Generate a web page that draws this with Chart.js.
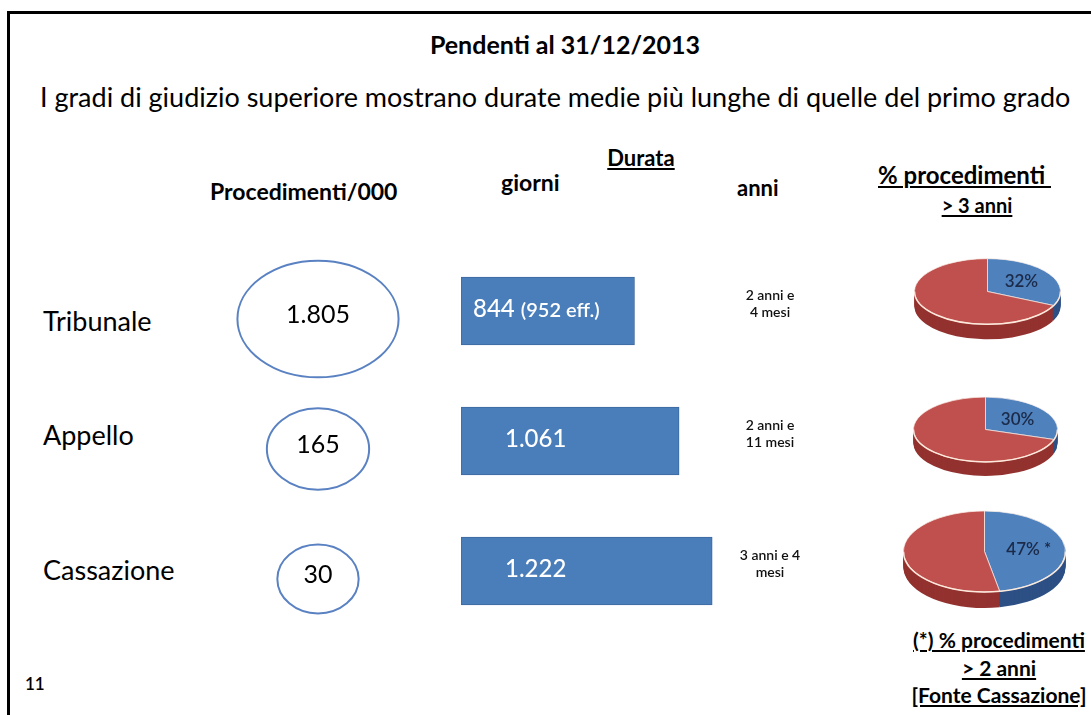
<!DOCTYPE html>
<html>
<head>
<meta charset="utf-8">
<script src="https://cdn.jsdelivr.net/npm/chart.js@4"></script>
<style>
  body { margin: 0; background: #fff; }
  #page { position: relative; width: 1091px; height: 715px; overflow: hidden; background: #fff;
          font-family: Lato, "Open Sans", sans-serif; color: #000; }
  #frame { position: absolute; left: 7px; top: 11px; width: 1100px; height: 720px;
           border-left: 3px solid #000; border-top: 3px solid #000; }
  .t { position: absolute; white-space: nowrap; line-height: 1; }
  .c { text-align: center; }
  .b { font-weight: bold; }
  .u { text-decoration: underline; text-decoration-thickness: 2px; text-underline-offset: 2px; }
  canvas { position: absolute; }
</style>
</head>
<body>
<div id="page">
  <div id="frame"></div>

  <div class="t c b" style="left:365px;width:400px;top:32px;font-size:25px;">Pendenti al 31/12/2013</div>
  <div class="t" style="left:40px;top:83px;font-size:27px;">I gradi di giudizio superiore mostrano durate medie più lunghe di quelle del primo grado</div>

  <div class="t c b u" style="left:541px;width:200px;top:147px;font-size:22px;">Durata</div>
  <div class="t b" style="left:210px;top:180px;font-size:23px;">Procedimenti/000</div>
  <div class="t b" style="left:501px;top:171px;font-size:23px;">giorni</div>
  <div class="t b" style="left:737px;top:177px;font-size:22px;">anni</div>
  <div class="t b u" style="left:878px;top:163px;font-size:24px;">% procedimenti&nbsp;</div>
  <div class="t c b u" style="left:877px;width:200px;top:195px;font-size:20px;">&gt; 3 anni</div>

  <div class="t" style="left:43px;top:307px;font-size:27px;">Tribunale</div>
  <div class="t" style="left:43px;top:421px;font-size:27px;">Appello</div>
  <div class="t" style="left:43px;top:556px;font-size:27px;">Cassazione</div>

  <div class="t" style="left:25px;top:675px;font-size:17px;font-weight:600;">11</div>
  <div class="t c b u" style="left:899px;width:200px;top:629px;font-size:21px;">(*) % procedimenti</div>
  <div class="t c b u" style="left:899px;width:200px;top:657px;font-size:21px;">&gt; 2 anni</div>
  <div class="t c b u" style="left:899px;width:200px;top:684px;font-size:21px;">[Fonte Cassazione]</div>

  <canvas id="c-proc" width="180" height="390" style="left:228px;top:254px;"></canvas>
  <canvas id="c-giorni" width="370" height="390" style="left:461px;top:246px;"></canvas>
  <canvas id="p0" width="147" height="147" style="left:914px;top:218px;"></canvas>
  <canvas id="p1" width="145" height="145" style="left:913px;top:357px;"></canvas>
  <canvas id="p2" width="163" height="163" style="left:903px;top:470px;"></canvas>
</div>

<script>
const rows = ['Tribunale', 'Appello', 'Cassazione'];
const procedimenti = [1805, 165, 30];
const procLabels = ['1.805', '165', '30'];
const durataGiorni = [844, 1061, 1222];
const giorniLabels = ['844', '1.061', '1.222'];
const giorniNote = ['(952 eff.)', '', ''];
const durataAnni = [['2 anni e', '4 mesi'], ['2 anni e', '11 mesi'], ['3 anni e 4', 'mesi']];
const pctOltre = [32, 30, 47];
const pctNote = ['', '', ' *'];

const FONT = 'Lato, "Open Sans", sans-serif';
Chart.defaults.font.family = FONT;
Chart.defaults.animation = false;
Chart.defaults.events = [];
Chart.defaults.plugins.legend.display = false;
Chart.defaults.plugins.tooltip.enabled = false;

// ellipses drawn on the bubble positions/radii
const ellipsePlugin = {
  id: 'ellipses',
  afterDatasetsDraw(chart) {
    const { ctx } = chart;
    chart.getDatasetMeta(0).data.forEach((el, i) => {
      const rx = el.options.radius;
      const ry = rx * 0.6 + 10;
      ctx.save();
      ctx.beginPath();
      ctx.ellipse(el.x, el.y, rx, ry, 0, 0, Math.PI * 2);
      ctx.strokeStyle = '#5a82c2';
      ctx.lineWidth = 2;
      ctx.stroke();
      ctx.fillStyle = '#000';
      ctx.font = `25px ${FONT}`;
      ctx.textAlign = 'center';
      ctx.textBaseline = 'middle';
      ctx.fillText(procLabels[i], el.x, el.y - 4);
      ctx.restore();
    });
  }
};

new Chart(document.getElementById('c-proc'), {
  type: 'bubble',
  data: {
    datasets: [{
      data: procedimenti.map((v, i) => ({ x: 0, y: rows[i], r: 27 + 4.4 * Math.cbrt(v) })),
      backgroundColor: 'transparent',
      borderColor: 'transparent'
    }]
  },
  options: {
    responsive: false,
    layout: { autoPadding: false },
    scales: {
      x: { display: false, min: -1, max: 1 },
      y: { type: 'category', labels: rows, offset: true, display: false }
    }
  },
  plugins: [ellipsePlugin]
});

const barText = {
  id: 'barText',
  afterDatasetsDraw(chart) {
    const { ctx } = chart;
    chart.getDatasetMeta(0).data.forEach((el, i) => {
      const left = el.base;
      ctx.save();
      ctx.fillStyle = '#fff';
      ctx.textBaseline = 'middle';
      ctx.font = `500 24px ${FONT}`;
      let x = left + (giorniNote[i] ? 12 : 44);
      ctx.fillText(giorniLabels[i], x, el.y - 2);
      if (giorniNote[i]) {
        x += ctx.measureText(giorniLabels[i]).width + 6;
        ctx.font = `600 20px ${FONT}`;
        ctx.fillText(giorniNote[i], x, el.y);
      }
      ctx.fillStyle = '#111';
      ctx.font = `600 14px ${FONT}`;
      ctx.textAlign = 'center';
      durataAnni[i].forEach((line, j) => ctx.fillText(line, left + 309, el.y - 16 + j * 17));
      ctx.restore();
    });
  }
};

new Chart(document.getElementById('c-giorni'), {
  type: 'bar',
  data: {
    labels: rows,
    datasets: [{
      data: durataGiorni,
      backgroundColor: '#4a7ebb',
      borderColor: '#3c699f',
      borderWidth: 1,
      borderSkipped: false,
      barThickness: 68
    }]
  },
  options: {
    responsive: false,
    indexAxis: 'y',
    scales: {
      x: { display: false, min: 0, max: 1800 },
      y: { display: false }
    }
  },
  plugins: [barText]
});

// tilted pie with a side wall
const pie3d = {
  id: 'pie3d',
  beforeDatasetsDraw(chart, args, opts) {
    const { ctx } = chart;
    const arcs = chart.getDatasetMeta(0).data;
    const { x: cx, y: cy, outerRadius: r } = arcs[0];
    const depth = Math.round(r * opts.depth);
    ctx.save();
    ctx.translate(cx, cy);
    ctx.scale(1, opts.tilt);
    ctx.translate(-cx, -cy);
    for (let d = depth; d > 0; d--) {
      ctx.save();
      ctx.translate(0, d / opts.tilt);
      arcs.forEach((el, i) => {
        const o = el.options;
        el.options = Object.assign({}, o, { backgroundColor: opts.side[i], borderWidth: 0 });
        el.draw(ctx);
        el.options = o;
      });
      ctx.restore();
    }
  },
  afterDatasetsDraw(chart, args, opts) {
    const { ctx } = chart;
    ctx.restore();
    const arcs = chart.getDatasetMeta(0).data;
    const { x: cx, y: cy, outerRadius: r } = arcs[0];
    ctx.save();
    ctx.beginPath();
    ctx.ellipse(cx, cy, r, r * opts.tilt, 0, 0, Math.PI);
    ctx.strokeStyle = 'rgba(255,236,222,0.95)';
    ctx.lineWidth = 1.5;
    ctx.stroke();
    const blue = arcs[0];
    const mid = (blue.startAngle + blue.endAngle) / 2;
    ctx.fillStyle = '#1b2a48';
    ctx.font = `600 17px ${FONT}`;
    ctx.textAlign = 'center';
    ctx.textBaseline = 'middle';
    ctx.fillText(opts.label, cx + Math.cos(mid) * r * 0.55, cy + Math.sin(mid) * r * 0.55 * opts.tilt);
    ctx.restore();
  }
};

const tilts = [0.45, 0.45, 0.5];
pctOltre.forEach((p, i) => {
  new Chart(document.getElementById('p' + i), {
    type: 'pie',
    data: {
      labels: ['oltre', 'entro'],
      datasets: [{
        data: [p, 100 - p],
        backgroundColor: ['#4f81bd', '#c0504d'],
        borderColor: '#fbefe8',
        borderWidth: 1
      }]
    },
    options: {
      responsive: false,
      plugins: {
        pie3d: { tilt: tilts[i], depth: 0.2, side: ['#2d5085', '#93322f'], label: p + '%' + pctNote[i] }
      }
    },
    plugins: [pie3d]
  });
});
</script>
</body>
</html>
